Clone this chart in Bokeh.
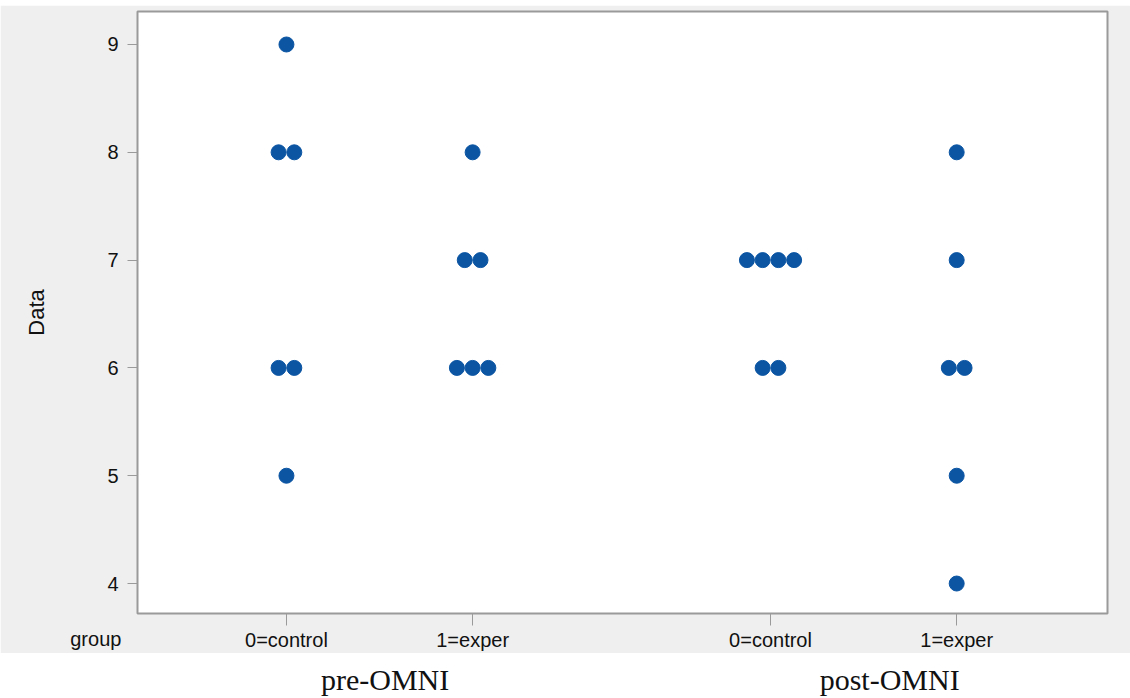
from bokeh.plotting import figure
from bokeh.models import Range1d, FixedTicker
from bokeh.layouts import column
from bokeh.embed import file_html
from bokeh.resources import INLINE
from bokeh.core.properties import value

# ---- data ----
group_positions = [1.0, 2.0, 3.6, 4.6]
group_labels = ["0=control", "1=exper", "0=control", "1=exper"]
pre_control = [9, 8, 8, 6, 6, 5]
pre_exper = [8, 7, 7, 6, 6, 6]
post_control = [7, 7, 7, 7, 6, 6]
post_exper = [8, 7, 6, 6, 5, 4]
y_ticks = [4, 5, 6, 7, 8, 9]
phase_labels = ["pre-OMNI", "post-OMNI"]
phase_positions = [1.53, 4.24]
x_title = "group"

series = [pre_control, pre_exper, post_control, post_exper]

DOT_STEP = 0.0845  # horizontal stacking step in data units
BLUE = "#0b55a3"
GRAY_BG = "#efefef"
FONT = "Liberation Sans"
TXT = "#111111"

xs, ys = [], []
for center, vals in zip(group_positions, series):
    for lv in sorted(set(vals)):
        n = vals.count(lv)
        for i in range(n):
            xs.append(center + (i - (n - 1) / 2) * DOT_STEP)
            ys.append(lv)


def blank_strip(height, x_range):
    f = figure(width=1130, height=height, output_backend="svg", toolbar_location=None,
               title=None, x_range=x_range, y_range=Range1d(0, height),
               min_border_left=137, min_border_right=23, min_border_top=0,
               min_border_bottom=0)
    f.axis.visible = False
    f.grid.visible = False
    f.outline_line_color = None
    f.background_fill_color = "white"
    f.border_fill_color = "white"
    return f


p = figure(width=1130, height=648, output_backend="svg", toolbar_location=None,
           x_range=Range1d(0.2, 5.41), y_range=Range1d(3.722, 9.306),
           min_border_left=137, min_border_right=23, min_border_top=6,
           min_border_bottom=40)
p.background_fill_color = "white"
p.border_fill_color = GRAY_BG
p.outline_line_color = "#9a9a9a"
p.outline_line_width = 2
p.grid.visible = False

p.scatter(xs, ys, size=15, color=BLUE, line_color=BLUE)

# x axis
p.xaxis.ticker = FixedTicker(ticks=group_positions)
p.xaxis.major_label_overrides = {pos: lab for pos, lab in zip(group_positions, group_labels)}
p.xaxis.axis_line_color = None
p.xaxis.major_tick_line_color = "#9a9a9a"
p.xaxis.major_tick_out = 12
p.xaxis.major_tick_in = 0
p.xaxis.minor_tick_line_color = None
p.xaxis.major_label_standoff = 3
p.xaxis.major_label_text_font = FONT
p.xaxis.major_label_text_font_size = "20px"
p.xaxis.major_label_text_color = TXT
# "group" sits at the left end of the axis; trailing no-break spaces shift it left
p.xaxis.axis_label = x_title + "\u00a0" * 15
p.xaxis.axis_label_align = "start"
p.xaxis.axis_label_standoff = -26
p.xaxis.axis_label_text_font = FONT
p.xaxis.axis_label_text_font_style = "normal"
p.xaxis.axis_label_text_font_size = "20px"
p.xaxis.axis_label_text_color = TXT

# y axis
p.yaxis.ticker = FixedTicker(ticks=y_ticks)
p.yaxis.axis_line_color = None
p.yaxis.major_tick_line_color = "#9a9a9a"
p.yaxis.major_tick_out = 10
p.yaxis.major_tick_in = 0
p.yaxis.minor_tick_line_color = None
p.yaxis.major_label_standoff = 9
p.yaxis.major_label_text_font = FONT
p.yaxis.major_label_text_font_size = "20px"
p.yaxis.major_label_text_color = TXT
p.yaxis.axis_label = "Data"
p.yaxis.axis_label_text_font = FONT
p.yaxis.axis_label_text_font_style = "normal"
p.yaxis.axis_label_text_font_size = "22px"
p.yaxis.axis_label_text_color = TXT
p.yaxis.axis_label_standoff = 55

top = blank_strip(5, p.x_range)

# bottom strip with phase labels (frame aligned with the main plot)
q = blank_strip(45, p.x_range)
q.text(x=phase_positions, y=[19, 19], text=phase_labels, text_align="center",
       text_baseline="middle", text_font=value("Liberation Serif"),
       text_font_size="30px", text_color=TXT)

layout = column(top, p, q, spacing=0)
open("out.html", "w").write(file_html(layout, INLINE))
